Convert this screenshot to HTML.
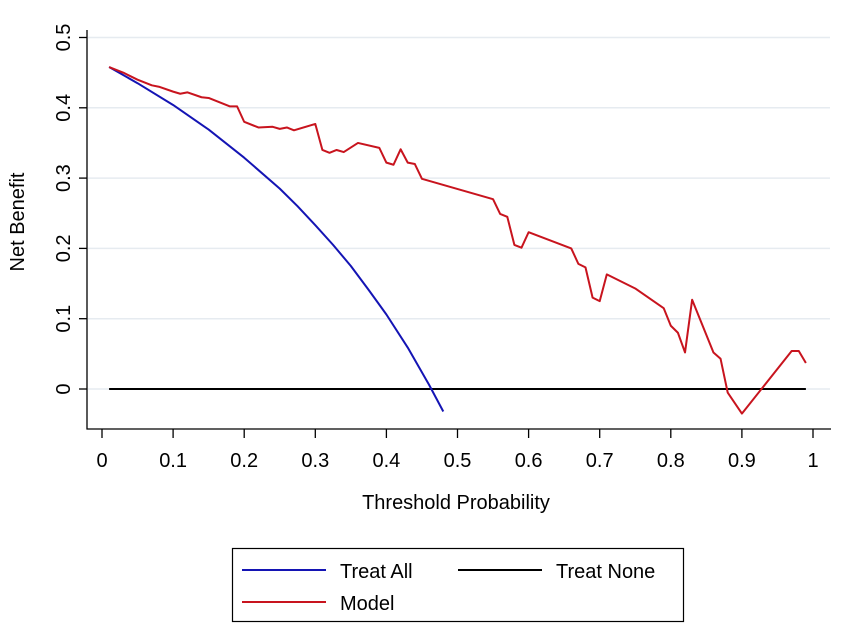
<!DOCTYPE html>
<html><head><meta charset="utf-8"><style>
body{margin:0;background:#fff;}
svg text{font-family:"Liberation Sans",Arial,sans-serif;fill:#000;}
</style></head><body>
<svg id="chart" width="851" height="628" viewBox="0 0 851 628">
<g id="grid"></g><g id="axes"></g><g id="series"></g>
<text x="456" y="509" font-size="20" text-anchor="middle">Threshold Probability</text>
<text transform="translate(24,222) rotate(-90)" font-size="20" text-anchor="middle">Net Benefit</text>
<g>
<rect x="232.5" y="548.5" width="451" height="73" fill="#fff" stroke="#000" stroke-width="1.2"/>
<g><line x1="242" y1="570" x2="326" y2="570" stroke="#1414b4" stroke-width="2"/><text x="340" y="578" font-size="20">Treat All</text></g>
<g><line x1="458" y1="570" x2="542" y2="570" stroke="#000" stroke-width="2"/><text x="556" y="578" font-size="20">Treat None</text></g>
<g><line x1="242" y1="602" x2="326" y2="602" stroke="#c8141e" stroke-width="2"/><text x="340" y="610" font-size="20">Model</text></g>
</g>
</svg>
<script>
const xTicks=[0,0.1,0.2,0.3,0.4,0.5,0.6,0.7,0.8,0.9,1];
const xTickLabels=["0","0.1","0.2","0.3","0.4","0.5","0.6","0.7","0.8","0.9","1"];
const yTicks=[0,0.1,0.2,0.3,0.4,0.5];
const yTickLabels=["0","0.1","0.2","0.3","0.4","0.5"];
const treatAllX=[0.01,0.05,0.10,0.15,0.20,0.25,0.275,0.30,0.325,0.35,0.375,0.40,0.43,0.46,0.48];
const treatAllY=[0.458,0.435,0.404,0.369,0.329,0.285,0.260,0.233,0.205,0.175,0.141,0.106,0.059,0.006,-0.032];
const treatNoneX=[0.01,0.99];
const treatNoneY=[0,0];
const modelX=[0.01,0.03,0.05,0.07,0.08,0.10,0.11,0.12,0.14,0.15,0.18,0.19,0.20,0.22,0.24,0.25,0.26,0.27,0.30,0.31,0.32,0.33,0.34,0.36,0.39,0.40,0.41,0.42,0.43,0.44,0.45,0.55,0.56,0.57,0.58,0.59,0.60,0.66,0.67,0.68,0.69,0.70,0.71,0.75,0.79,0.80,0.81,0.82,0.83,0.86,0.87,0.88,0.90,0.97,0.98,0.99];
const modelY=[0.458,0.450,0.440,0.432,0.430,0.423,0.420,0.422,0.415,0.414,0.402,0.402,0.380,0.372,0.373,0.370,0.372,0.368,0.377,0.340,0.336,0.340,0.337,0.350,0.343,0.322,0.319,0.341,0.322,0.320,0.299,0.270,0.249,0.245,0.205,0.201,0.223,0.200,0.178,0.173,0.130,0.125,0.163,0.143,0.115,0.090,0.080,0.052,0.127,0.052,0.043,-0.005,-0.035,0.054,0.054,0.037];

const NS="http://www.w3.org/2000/svg";
const sx=v=>102+711*v, sy=v=>389-703*v;
function mk(tag,attrs,parent){const e=document.createElementNS(NS,tag);for(const k in attrs)e.setAttribute(k,attrs[k]);parent.appendChild(e);return e;}
const grid=document.getElementById('grid'),axes=document.getElementById('axes'),series=document.getElementById('series');
yTicks.forEach((v,i)=>{
  const g=mk('line',{x1:88,x2:830,y1:sy(v),y2:sy(v),stroke:'#e6ebf0','stroke-width':1.5},grid);
  
  
  const t=mk('line',{x1:79,x2:87,y1:sy(v),y2:sy(v),stroke:'#000','stroke-width':1.3},axes);
  
  
  const l=mk('text',{transform:`translate(70,${sy(v)}) rotate(-90)`,'font-size':20,'text-anchor':'middle'},axes);
  l.textContent=yTickLabels[i];
  
  
});
const ya=mk('line',{x1:87,x2:87,y1:30,y2:429.5,stroke:'#000','stroke-width':1.3},axes);


const xa=mk('line',{x1:86.5,x2:831,y1:429,y2:429,stroke:'#000','stroke-width':1.3},axes);


xTicks.forEach((v,i)=>{
  const t=mk('line',{x1:sx(v),x2:sx(v),y1:429,y2:438,stroke:'#000','stroke-width':1.3},axes);
  
  
  const l=mk('text',{x:sx(v),y:467,'font-size':20,'text-anchor':'middle'},axes);
  l.textContent=xTickLabels[i];
  
  
});
function line(xs,ys,color,name){
  const p=mk('polyline',{points:xs.map((x,i)=>sx(x)+','+sy(ys[i])).join(' '),fill:'none',stroke:color,'stroke-width':2,'stroke-linejoin':'round'},series);
  
  
}
line(treatNoneX,treatNoneY,'#000','treat-none-line');
line(treatAllX,treatAllY,'#1414b4','treat-all-line');
line(modelX,modelY,'#c8141e','model-line');
</script>
</body></html>
